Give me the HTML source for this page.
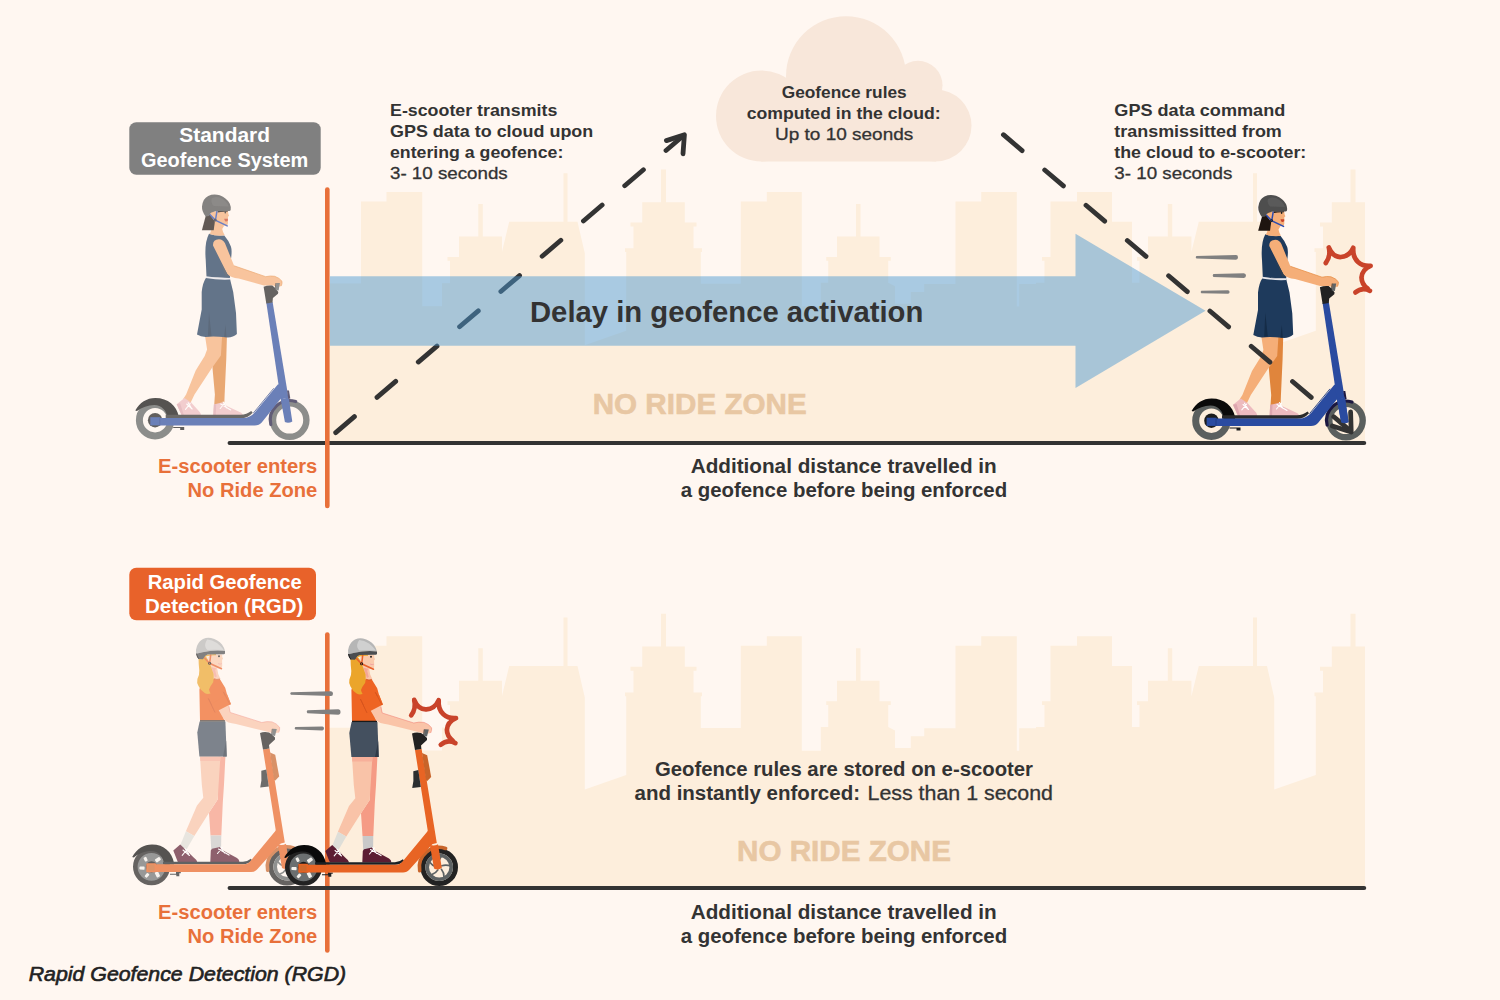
<!DOCTYPE html>
<html><head><meta charset="utf-8">
<style>
html,body{margin:0;padding:0;background:#FFF7F1;}
body{width:1500px;height:1000px;overflow:hidden;font-family:"Liberation Sans",sans-serif;}
svg{display:block;position:absolute;left:0;top:0}
text{font-family:"Liberation Sans",sans-serif;}
.b{font-weight:bold;fill:#333}
.r{font-weight:normal;fill:#333;stroke:#333;stroke-width:0.3px}
.o{font-weight:bold;fill:#E8703A}
.w{font-weight:bold;fill:#fff}
.z{font-weight:bold;fill:#E8C7A3}
</style></head><body>
<svg width="1500" height="1000" viewBox="0 0 1500 1000">
<defs>
<path id="sky" d="M328,889 V727.7 H361 V645.7 H386.5 V636.3 H422.2 V750.5 H442 V727.5 H450 V705 H447.5 V701.2 H459 V680.8 H478.3 V648.2 H482.8 V680.8 H502 V696 L509.2,666 H563.5 V617.5 H567.5 V666 H577.5 L584.8,697.5 V789.5 L626.2,775 V696.2 H625 V692.5 H633.5 V670.8 H630.5 V666.8 H642.2 V646.5 H661 V613.8 H666 V646.5 H684.8 V666.8 H696.5 V670.8 H693.5 V692.5 H702 V696.2 H700.8 V728 H740.8 V645.8 H766.8 V636.2 H801.8 V750.8 H820.8 V727 H828.2 V705 H826.2 V701.2 H837 V680.8 H856 V648.2 H860.5 V680.8 H879.5 V701.2 H890.8 V705 H888.2 V727 L895,730.5 V748 H910.8 V736.2 H924.2 V728.2 H955.5 V645.8 H981.2 V636.2 H1016.8 V750.8 H1019.2 V728.2 H1036 V727 H1044.5 V705 H1042 V701.2 H1050.5 V645.8 H1077 V636.2 H1112 V666 H1132 V727 H1139.5 V705 H1137 V701.2 H1148 V680.8 H1167.8 V648.2 H1172.2 V680.8 H1191.4 V696.4 L1198.8,666 H1253 V617.5 H1257 V666 H1267 L1274.2,697.5 V789.5 L1315.8,775 V696.2 H1314.5 V692.5 H1323 V670.8 H1320 V666.8 H1331.8 V646.5 H1350.5 V613.8 H1355.5 V646.5 H1365 V889 Z"/>

<g id="riderA">
 <!-- rear wheel -->
 <circle cx="1211.4" cy="420.7" r="15.7" fill="none" stroke="#5A5F5E" stroke-width="7"/>
 <circle cx="1211.4" cy="420.7" r="7.2" fill="#1c1c1c"/>
 <!-- front wheel -->
 <circle cx="1346" cy="420.6" r="16.7" fill="none" stroke="#5A5F5E" stroke-width="6.4"/>
 <!-- front fender -->
 <path d="M1327.1,425.0 A19.4,19.4 0 0 1 1352.0,402.1" fill="none" stroke="#1B1740" stroke-width="3.2" stroke-linecap="round"/>
 <g id="arrowA"></g>
 <!-- rear fender -->
 <path d="M1191.6,411 C1196,403 1203,398.4 1211.6,398.4 C1224.5,398.4 1233,406.5 1235,416.5 L1235,419 L1223.6,419 C1223.4,411.5 1218,405.6 1210.5,405.6 C1204,405.6 1198.5,408 1193.2,411.6 Z" fill="#0a0a0a"/>
 <!-- kickstand -->
 <path d="M1229.5,427.6 H1240.5 V430.5 H1236.5 V428.6 H1229.5 Z" fill="#1a1a1a"/>
 <!-- legs -->
 <path d="M1270,336.5 L1283.2,337 L1282.6,359 L1280.9,396 L1280.4,410 L1270.2,410 L1271.2,395 L1268.8,368.6 Z" fill="#E0853C"/>
 <path d="M1261.3,336.2 L1278.4,336.8 L1277.2,356 L1268.2,368.6 L1250.8,395 L1246.5,404 L1239.5,399.5 L1242.4,395 L1252,371 L1261,356.6 L1263.4,350 Z" fill="#F5AE78"/>
 <!-- shoes -->
 <path d="M1233,404.8 L1240.8,398.6 L1247.4,403 L1256,412.5 Q1257.3,414 1257.3,416.8 L1238.4,416.8 Z" fill="#EDBBBF"/>
 <path d="M1233,404.8 L1238.4,416.8 L1240.5,416.8 L1236.5,404 Z" fill="#DDA6AE"/>
 <path d="M1269.5,416.8 L1270.2,405 L1279,402.8 L1283,406.5 L1297.5,413.3 Q1299.3,414.5 1299.3,416.8 Z" fill="#EDBBBF"/>
 <path d="M1269.5,416.8 L1270.2,405 L1272.5,404.5 L1272,416.8 Z" fill="#DDA6AE"/>
 <g stroke="#fff" stroke-width="1.1" fill="none" stroke-linecap="round"><path d="M1243,404.5 L1248.5,409.5 M1241.8,409.8 L1246.5,404.2 M1244.5,403.2 L1247.5,408.2"/><path d="M1277,404.5 L1287,410.5 M1276.5,409 L1281.5,403 M1279.5,402.5 L1283,408.5"/></g>
 <!-- deck grip tape -->
 <path d="M1222,415.3 H1297 Q1303,415.2 1307.5,411.6 L1309,413.2 Q1304,418.8 1297,418.8 H1222 Z" fill="#2a2a2a"/><path d="M1309.6,413.6 L1330,388.8" stroke="#233f86" stroke-width="0.9" fill="none"/>
 <!-- deck + neck -->
 <path d="M1216,418.6 H1299 Q1306.5,418.6 1311.5,412.6 L1334.5,384.5 L1342,393 L1318,423 Q1315.5,425.9 1311,425.9 H1216 Z" fill="#2A4BA0"/>
 <rect x="1206.6" y="417.7" width="9.8" height="8.2" fill="#2A4BA0"/>
 <rect x="1215.4" y="418.6" width="1.2" height="7.3" fill="#223f8a"/>
 <!-- stem -->
 <path d="M1322.6,303 L1328.9,302.4 L1344.8,398.5 L1337,399.5 Z" fill="#2A4BA0"/>
 <g id="forkA"><path d="M1336.6,397.5 Q1340.5,400.5 1344.8,397 L1348.6,422 Q1345,424 1341.2,422.6 Z" fill="#2A4BA0"/></g>
 <path d="M1343.3,391 L1345.3,391 L1346.6,399 L1344.6,399.5 Z" fill="#1B1740"/>
 <!-- dress -->
 <path d="M1262.5,278 L1286.2,278.9 L1289.5,292.5 L1292.3,313.5 L1293.2,334.5 Q1289,338.5 1282,337.8 Q1270,336.2 1262,337.4 Q1257,337.4 1253.3,335 L1258,310 L1258,292.5 Q1259,283 1262.5,278 Z" fill="#1E3A5C"/>
 <path d="M1265.3,312.8 L1264.2,336.8 L1267.8,336.6 Z M1281.8,325 L1280.4,337.6 L1282.8,337.8 Z" fill="#152C47"/>
 <path d="M1265.3,234.2 Q1272,236.6 1280.6,236 Q1285,241 1287.2,247 Q1288.6,251 1287.2,260 L1286.2,278.5 L1262.8,277.5 L1262,260 Q1260.6,243 1265.3,234.2 Z" fill="#1E3A5C"/>
 <path d="M1262.2,277.6 Q1274,279.8 1286.4,279.2" fill="none" stroke="#E6E6EC" stroke-width="1.6"/>
 <!-- neck + head -->
 <path d="M1266.5,233.5 L1270.5,222 L1280.6,226 L1278.5,229.5 Q1279,232.5 1281,235.8 Q1273,237 1265.5,234.4 Z" fill="#F5AE78"/>
 <path d="M1266.5,212 L1284.3,211.6 L1284.6,214.5 L1285.4,216.3 L1284.3,217.2 L1284.3,223.6 Q1284.3,226.2 1282.2,226.1 L1276.5,225.6 L1271.5,223.4 L1266.5,218 Z" fill="#F5AE78"/>
 <path d="M1280.5,219.2 L1284.2,219.2 L1284.2,221 Q1283.3,222.4 1281.8,222 Q1280.8,221 1280.5,219.2 Z" fill="#C9432A"/>
 <ellipse cx="1281.6" cy="212.9" rx="0.8" ry="1.1" fill="#222"/>
 <path d="M1273.8,211.2 H1284 V212.3 Q1278,211.9 1274,213 Z" fill="#1E1510"/>
 <!-- hair -->
 <path d="M1262,216.5 L1258.2,230.8 L1270,230.8 L1271.2,222 L1266,215 Z" fill="#1E1510"/>
 <!-- strap -->
 <g stroke="#2A4BB0" stroke-width="1.5" fill="none" stroke-linecap="round"><path d="M1266.2,215 L1271.5,220.6 L1283.5,226.4 M1273.2,212 L1271.8,220.4"/></g>
 <circle cx="1271.6" cy="220.6" r="1.3" fill="#1a1a1a"/><circle cx="1271.6" cy="220.6" r="0.5" fill="#2A4BB0"/>
 <!-- helmet -->
 <path d="M1262,216.9 Q1258,212 1258.3,207 Q1259,199 1264.5,196.4 Q1270,193.8 1276,195.8 Q1283,198.5 1286,204 Q1287.6,207.5 1287,210.5 Q1286.5,211.6 1285,211.4 L1274,211.5 Q1268.5,212 1266.6,214 Q1265.6,215.4 1265.3,216.5 Z" fill="#4E4E4E"/>
 <path d="M1268,199 Q1271,196.5 1276,198 Q1283,201 1285,207 L1270,206.5 Q1266.8,203 1268,199 Z" fill="#5A5A5A"/>
 <!-- arm -->
 <path d="M1269.3,246 Q1269,240 1275.2,239.8 Q1279.6,240 1281.4,244 L1290.4,266.3 L1322,277.2 Q1327,276 1331,276.8 Q1336,278.5 1338.3,281.8 Q1338.6,284.5 1337.4,286.6 L1333,288 L1329.8,286 L1320.2,286.1 L1295,279 Q1287,278.3 1283.6,274.4 Z" fill="#F5AE78"/>
 <path d="M1290.4,266.3 L1322,277.2 Q1327,276 1331,276.8 Q1336,278.5 1338.3,281.8 Q1338.6,284.5 1337.4,286.6" fill="none" stroke="#E58A3E" stroke-width="0.7"/>
 <path d="M1275.4,260 L1283.6,274.4 L1285.2,276.2 L1282,276.4 Z" fill="#2E3E50"/>
 <!-- grip -->
 <path d="M1319.9,287.2 Q1324,285.6 1328.6,286.1 L1331.5,288.5 L1334.6,292.4 L1334.3,294.2 L1329.2,298.4 L1328.8,303 L1322.6,303.9 Z" fill="#222"/>
 <path d="M1332.7,283.4 L1336.2,283.6 L1334.9,290.9 L1331.8,290.6 Z" fill="#5F6466"/>
 <path d="M1332.7,283.4 L1331.8,290.6 L1331,290.4 L1331.8,283.6 Z" fill="#333"/>
</g>

<g id="riderB">
 <!-- rear wheel -->
 <circle cx="303.5" cy="867.3" r="16.2" fill="#6B6F70" stroke="#222" stroke-width="4.6"/>
 <g fill="#F4F1EC"><rect x="308.1" y="857.4" width="3.6" height="5.6" rx="0.9" transform="rotate(54 309.9 860.2)"/><rect x="296.1" y="857.5" width="3" height="4.4" rx="0.9" transform="rotate(-26 297.6 859.7)"/><rect x="292.4" y="866.0" width="3.2" height="5.2" rx="0.9" transform="rotate(274 294.0 868.6)"/><rect x="297.5" y="873.5" width="3" height="4.6" rx="0.9" transform="rotate(220 299.0 875.8)"/><rect x="307.6" y="872.0" width="3.6" height="5.8" rx="0.9" transform="rotate(154 309.4 874.9)"/></g>
 <circle cx="303.5" cy="867.3" r="5.6" fill="#1c1c1c"/>
 <!-- front wheel -->
 <circle cx="439.2" cy="867.25" r="16.3" fill="none" stroke="#222" stroke-width="5"/>
 <circle cx="439.2" cy="867.25" r="12" fill="none" stroke="#5E6364" stroke-width="3.6"/>
 <path d="M438.7,864.3 Q438.3,860.3 441.1,856.4 M441.8,865.8 Q445.5,864.3 450.1,865.7 M441.4,869.3 Q444.0,872.4 444.0,877.1 M437.9,869.9 Q435.8,873.4 431.3,874.9 M436.2,866.8 Q432.3,865.9 429.5,862.1 " fill="none" stroke="#5E6364" stroke-width="1.7" stroke-linecap="round"/>
 <!-- front fender -->
 <path d="M419.7,870.7 A19.8,19.8 0 0 1 445.6,848.5" fill="none" stroke="#C8642A" stroke-width="3.6" stroke-linecap="round"/>
 <!-- rear fender -->
 <path d="M284.2,857.4 C289,849 296,844.9 304,844.9 C316,844.9 324,852.5 326,863.4 L326,865 L316,865 C315.8,857.5 311,851.5 303,851.5 C296.5,851.5 291,854 285.8,858 Z" fill="#0a0a0a"/>
 <!-- kickstand -->
 <path d="M322,874.2 H328 V872.6 H332.8 V873.8 H331.3 V876.8 H328.3 V875.2 H322 Z" fill="#1f2326"/>
 <!-- far leg -->
 <path d="M370.6,757 L377.4,757 L376,785 L374.8,803 L373.3,836 L362.5,836 L361,813.2 L369.7,800 Z" fill="#F59B85"/>
 <path d="M362.5,836 L373.3,836 L373,851 L363.3,851 Z" fill="#C9C9C9"/>
 <!-- near leg -->
 <path d="M352,757 L372.4,757 L370.6,785 L369.7,800 L361,813.2 L346.3,836.6 L337.9,831.8 L349,806 L355.3,798.2 L353.8,785 Z" fill="#F9C3A8"/>
 <path d="M352,757 L372.4,757 L372.2,761.5 L352.3,761.5 Z" fill="#F7B09A"/>
 <path d="M337.9,831.8 L346.3,836.6 L338.5,850 L331.8,847 Z" fill="#DEDED8"/>
 <!-- shoes -->
 <path d="M325.3,851 L332.2,844.9 L337,849.4 L345.4,857.8 Q349,860.5 349.2,862.6 L329.8,862.6 Z" fill="#5C1D33"/>
 <path d="M362.3,862.6 L362.8,851 L364,849.2 L372,847.6 L376,851.5 L389,858.6 Q391.4,860 391.4,862.6 Z" fill="#5C1D33"/>
 <g stroke="#fff" stroke-width="1.1" fill="none" stroke-linecap="round"><path d="M335,850.5 L341.5,856 M334.2,855.8 L339,850 M337,849 L340.5,854"/><path d="M370.5,849.5 L381,855.6 M369.5,854 L374.5,848 M372.8,847.6 L376.5,853.5"/></g>
 <!-- grip tape -->
 <path d="M315,862.3 H395 Q399.5,862 402.9,859.2 L404,860.8 Q400.5,864.8 395,864.8 H315 Z" fill="#1a2025"/>
 <!-- deck + neck -->
 <path d="M307,864.7 H396 Q400.5,864.5 403.4,860.4 L428.2,830.6 L436,840 L409.5,869.5 Q407,872.5 403,872.5 H307 Z" fill="#E86424"/>
 <rect x="298.3" y="863.8" width="9.7" height="9" rx="0.8" fill="#E86424"/>
 <rect x="300.2" y="865.3" width="6.4" height="6" rx="1.2" fill="#CF682C"/>
 <!-- stem -->
 <path d="M415,750 L421.6,749 L436.8,843 L429,845 L427.6,829.8 Z" fill="#E86424"/>
 <path d="M422,753 L427.2,755.2 L431.2,777 L427,781.2 L426,780 Z" fill="#C8642A"/>
 <path d="M413.3,771.3 L418.3,770 L420.8,787 L412.2,788 L413.4,781 Z" fill="#2b2e30"/>
 <!-- fork -->
 <path d="M429.8,844.6 Q434,846.6 438,844.2 L441.8,868 Q438,870.6 434,868.6 Z" fill="#E86424"/>
 <!-- shorts -->
 <path d="M351.6,722 L377.4,722 L378.7,757 L351.4,757 L349.3,733 Z" fill="#44505F"/>
 <path d="M378.2,741 L378.7,757 L375,757 Z" fill="#2E3947"/>
 <!-- neck -->
 <path d="M362,666 L369,668 L370.2,674.5 Q371.5,677.5 372.6,679.5 L365.6,680 Z" fill="#FAC4A8"/><path d="M363.5,667.5 L368.2,668.2 L367.2,671 L368.8,677 L366.8,678 Z" fill="#F4A597"/>
 <!-- tshirt -->
 <path d="M365.8,679.2 Q369,680.4 371.8,679.5 L377.2,688.2 L379,694.8 L382.9,704.4 L372.5,709.5 L376.4,721 L352,721 L351.4,690 Q353,682 358,680 Z" fill="#EE6423"/>
 <path d="M360.4,699 L367,712.8 M375.4,692.4 L382,705" fill="none" stroke="#D2521C" stroke-width="0.7"/>
 <path d="M365.8,679.2 Q369,680.6 371.8,679.5" fill="none" stroke="#D2521C" stroke-width="0.8"/>
 <path d="M352,721.4 H377" stroke="#1a1a1a" stroke-width="1.3"/>
 <!-- head -->
 <path d="M361,655.4 L374.2,655 L374.2,657.6 L375.1,659.3 L374.1,660.2 L374.2,666.4 Q374.2,669 372.2,669 L366.5,668.6 L363,667.2 L361,664 Z" fill="#FAC9AB"/>
 <path d="M359.5,657.5 Q361.6,655.8 362,659 Q361.8,661.4 360.2,661.6 Z" fill="#FBD5C2"/>
 <path d="M370,663.6 Q372,664.6 373.9,663.8 L373.9,664.6 Q372,665.4 370.2,664.4 Z" fill="#F0A0A0"/>
 <circle cx="371" cy="656.7" r="0.95" fill="#1a1a1a"/>
 <!-- hair -->
 <path d="M350.5,658 L357,655.5 Q360,659 362.6,666 Q364,670 365.6,674.5 Q366,679 365.2,682.8 Q362,687 361,690 Q361.5,692.5 362.6,694 Q359.5,695 357,693.8 Q352.5,691 350.5,686.5 Q348.5,683 349.4,679.5 Q351.6,675 351.3,671 Q350.6,665 350.5,658 Z" fill="#EBA52B"/>
 <path d="M357,655.2 L368,654.6 L368,655.8 Q362,655.8 358,657 Z" fill="#EBA52B"/>
 <!-- strap -->
 <g stroke="#E8602A" stroke-width="1.5" fill="none" stroke-linecap="round"><path d="M356.5,658.5 L361.5,663.8 L373.5,669.2 M362.7,655.6 L361.7,663.4"/></g>
 <circle cx="361.6" cy="663.8" r="1.5" fill="#1a1a1a"/><ellipse cx="361.6" cy="663.8" rx="0.5" ry="0.9" fill="#E8602A"/>
 <!-- helmet -->
 <path d="M348.1,654.2 Q347.6,650 349,646.5 Q351,641.5 355,639.4 Q359,637.6 363,638.4 Q370,640 374,645 Q376.4,648.5 377,651.4 Q370,650.4 362,651.4 Q354,652.4 348.1,654.2 Z" fill="#B6B6B6"/>
 <path d="M359.2,640 Q364,640 369,643.5 Q374,647.5 375.6,650.6 Q366,649.8 359.5,650.6 Q356.6,648 357.2,644.5 Q357.8,641.5 359.2,640 Z" fill="#D0D0D0"/>
 <path d="M348.1,654.2 Q354,652.4 362,651.4 Q370,650.4 377,651.4 L377,654 Q376.6,654.8 375.5,654.7 L359.5,655.1 Q357,656.2 356.2,657.8 Q355.6,659.2 354.8,659.7 L350.6,659.4 Q348.6,657.4 348.1,654.2 Z" fill="#4B4D50"/>
 <path d="M348.1,654.2 Q348.6,657.4 350.6,659.4 L351.4,659.4 Q349.4,657.2 349,654 Z" fill="#1a1a1a"/>
 <!-- arm -->
 <path d="M370,709.6 L381,704.6 L382.2,713 L413.8,723 Q419,721.6 424,722.4 Q428.5,723.8 431.6,727.8 Q432,730.5 430.6,733 L426,734 L421.5,732.8 L412.4,730.6 L388,724.5 Q379,723.5 376,720 Z" fill="#FAC4A8"/>
 <path d="M380.8,706.8 L382.2,713 L413.8,723 Q419,721.6 424,722.4 Q428.5,723.8 431.6,727.8 Q432,730.5 430.6,733" fill="none" stroke="#F2877A" stroke-width="0.6"/>
 <path d="M366,703 L379,694.8 L382.9,704.4 L367,712.8 L363.6,705.6 Z" fill="#EE6423"/>
 <path d="M360.4,699 L367,712.8 M375.4,692.4 L382,705" fill="none" stroke="#D2521C" stroke-width="0.7"/>
 <!-- grip -->
 <path d="M412,733.6 Q416.2,731.8 421,733.1 L424,734.9 L427,737.9 L427,740 L421,745.4 L421.4,749 L415,750 Z" fill="#222"/>
 <path d="M424.7,729.2 L428.8,729.5 L427,736.4 L424,735.8 Z" fill="#5F6466"/>
 <path d="M424.7,729.2 L424,735.8 L423.2,735.6 L423.8,729.4 Z" fill="#333"/>
</g>
</defs>

<!-- ===== upper panel ===== -->
<use href="#sky" transform="translate(0,-444.3)" fill="#FDEEDC"/>
<!-- cloud -->
<g fill="#F8E7DA">
<circle cx="761.5" cy="116" r="45.5"/><circle cx="846" cy="76.3" r="60"/><circle cx="918" cy="85.3" r="24.5"/><circle cx="935.5" cy="125.5" r="36"/><rect x="761" y="100" width="175" height="61.5"/>
</g>
<!-- dashed lines -->
<g fill="none" stroke="#333" stroke-width="4.8" stroke-linecap="round" stroke-linejoin="round">
<path d="M335.7,432.6 L682.7,136.2" stroke-dasharray="24.6 29.7"/>
<path d="M666.4,140.6 L684.4,134.8 L683,153.8"/>
</g>
<!-- big arrow -->
<path d="M330,276.2 H1075.5 V233.8 L1205.5,310.8 L1075.5,388 V345.8 H330 Z" fill="rgb(75,152,208)" fill-opacity="0.48"/>
<!-- ground + fence -->
<line x1="229.6" y1="443" x2="1364.2" y2="443" stroke="#333" stroke-width="4.1" stroke-linecap="round"/>
<line x1="327.3" y1="189.5" x2="327.3" y2="506" stroke="#E8703A" stroke-width="4.6" stroke-linecap="round"/>

<!-- riders upper -->
<use href="#riderA" transform="translate(-1056.3,-0.5)" opacity="0.69"/>
<!-- speed lines A -->
<g fill="#808080">
<path d="M1196.4,255.9 L1236,255 Q1238,255 1238,257.3 Q1238,259.6 1236,259.7 L1196.4,258.6 Q1195,257.2 1196.4,255.9 Z"/>
<path d="M1213.4,274 L1243.8,273.2 Q1246,273.3 1246,275.6 Q1246,278 1243.8,278.1 L1213.4,277 Q1212,275.5 1213.4,274 Z"/>
<path d="M1201.3,290.8 L1228,290.3 Q1229.6,290.4 1229.6,292 Q1229.6,293.7 1228,293.8 L1201.3,293.2 Q1200,292 1201.3,290.8 Z"/>
</g>
<use href="#riderA"/>
<!-- right dashed line -->
<g fill="none" stroke="#333" stroke-width="4.8" stroke-linecap="round" stroke-linejoin="round">
<path d="M1003.4,134.7 L1350.4,430.9" stroke-dasharray="24.6 29.7"/>
<path d="M1332.3,426 L1351.2,432 L1350.6,412"/>
</g>
<use href="#forkA"/>
<!-- burst A -->
<g id="burst" fill="none" stroke="#C9432A" stroke-width="4.7" stroke-linecap="round" stroke-linejoin="round">
<path d="M1325.8,263 Q1331,256 1328.8,247.5 Q1333,257.5 1341,257 Q1349.5,256.5 1353.3,247.8 Q1352.5,257 1358,262 Q1363,266.5 1370.6,265.8 Q1362,269.5 1361.5,277.5 Q1361.5,284 1367.5,288.5"/>
<path d="M1355.4,292.4 Q1362,286.8 1370,290.8"/>
</g>
<!-- ===== lower panel ===== -->
<use href="#sky" fill="#FDEEDC"/>
<line x1="327.3" y1="634.5" x2="327.3" y2="950.5" stroke="#E8703A" stroke-width="4.6" stroke-linecap="round"/>
<line x1="229.6" y1="888" x2="1364.2" y2="888" stroke="#333" stroke-width="4.1" stroke-linecap="round"/>

<!-- riders lower -->
<use href="#riderB" transform="translate(-152,-0.5)" opacity="0.69"/>
<g fill="#808080">
<path d="M290.9,692.2 L331,691.3 Q333,691.4 333,693.7 Q333,696 331,696.1 L290.9,694.8 Q289.5,693.4 290.9,692.2 Z"/>
<path d="M307.4,710.2 L338.4,709.3 Q340.6,709.4 340.6,712 Q340.6,714.6 338.4,714.7 L307.4,713.2 Q306,711.7 307.4,710.2 Z"/>
<path d="M295.3,727.1 L322.3,726.6 Q324,726.7 324,728.5 Q324,730.3 322.3,730.4 L295.3,729.6 Q294,728.3 295.3,727.1 Z"/>
</g>
<use href="#riderB"/>
<use href="#burst" transform="translate(-914.6,452.3)"/>
<!-- label boxes -->
<rect x="129.3" y="122.3" width="191.4" height="52.4" rx="7" fill="#808080"/>
<rect x="129.3" y="567.7" width="186.7" height="52.6" rx="7" fill="#E8622A"/>

<!-- ===== text ===== -->
<g font-size="20" class="w" lengthAdjust="spacingAndGlyphs">
<text x="179.3" y="142.3" textLength="90.7" lengthAdjust="spacingAndGlyphs">Standard</text><text x="141" y="166.7" textLength="167.3" lengthAdjust="spacingAndGlyphs">Geofence System</text>
<text x="147.7" y="589" textLength="154" lengthAdjust="spacingAndGlyphs">Rapid Geofence</text><text x="145" y="613.3" textLength="158.3" lengthAdjust="spacingAndGlyphs">Detection (RGD)</text>
</g>
<g font-size="17" class="b">
<text x="390" y="116" textLength="167.3" lengthAdjust="spacingAndGlyphs">E-scooter transmits</text><text x="390" y="137.2" textLength="203.3" lengthAdjust="spacingAndGlyphs">GPS data to cloud upon</text><text x="390" y="158.3" textLength="173.3" lengthAdjust="spacingAndGlyphs">entering a geofence:</text><text x="390" y="179.4" class="r" textLength="117.7" lengthAdjust="spacingAndGlyphs">3- 10 seconds</text>
<text x="1114.3" y="116" textLength="171" lengthAdjust="spacingAndGlyphs">GPS data command</text><text x="1114.3" y="137.2" textLength="167.5" lengthAdjust="spacingAndGlyphs">transmissitted from</text><text x="1114.3" y="158.3" textLength="192" lengthAdjust="spacingAndGlyphs">the cloud to e-scooter:</text><text x="1114.3" y="179.4" class="r" textLength="118" lengthAdjust="spacingAndGlyphs">3- 10 seconds</text>
<text x="781.7" y="98.3" textLength="125" lengthAdjust="spacingAndGlyphs">Geofence rules</text><text x="746.7" y="119.3" textLength="194" lengthAdjust="spacingAndGlyphs">computed in the cloud:</text><text x="775" y="140.2" class="r" textLength="138.3" lengthAdjust="spacingAndGlyphs">Up to 10 seonds</text>
</g>
<text x="530" y="322.3" font-size="29" class="b" textLength="393.3" lengthAdjust="spacingAndGlyphs">Delay in geofence activation</text>
<text x="592.7" y="414" font-size="29" class="z" stroke="#E8C7A3" stroke-width="0.6" textLength="214" lengthAdjust="spacingAndGlyphs">NO RIDE ZONE</text>
<text x="737" y="861" font-size="29" class="z" stroke="#E8C7A3" stroke-width="0.6" textLength="214" lengthAdjust="spacingAndGlyphs">NO RIDE ZONE</text>
<g font-size="20" class="b">
<text x="690.7" y="472.7" textLength="306" lengthAdjust="spacingAndGlyphs">Additional distance travelled in</text><text x="680.7" y="496.7" textLength="326.5" lengthAdjust="spacingAndGlyphs">a geofence before being enforced</text>
<text x="690.7" y="919" textLength="306" lengthAdjust="spacingAndGlyphs">Additional distance travelled in</text><text x="680.7" y="943.2" textLength="326.5" lengthAdjust="spacingAndGlyphs">a geofence before being enforced</text>
<text x="655" y="776" textLength="378" lengthAdjust="spacingAndGlyphs">Geofence rules are stored on e-scooter</text><text x="634.5" y="799.5" textLength="225.5" lengthAdjust="spacingAndGlyphs">and instantly enforced:</text><text x="867.5" y="799.5" class="r" textLength="185.5" lengthAdjust="spacingAndGlyphs">Less than 1 second</text>
</g>
<g font-size="20" class="o">
<text x="158" y="472.7" textLength="159.3" lengthAdjust="spacingAndGlyphs">E-scooter enters</text><text x="187.5" y="496.7" textLength="129.8" lengthAdjust="spacingAndGlyphs">No Ride Zone</text>
<text x="158" y="918.8" textLength="159.3" lengthAdjust="spacingAndGlyphs">E-scooter enters</text><text x="187.5" y="943" textLength="129.8" lengthAdjust="spacingAndGlyphs">No Ride Zone</text>
</g>
<text x="28.7" y="980.5" font-size="19.5" font-style="italic" fill="#222" stroke="#222" stroke-width="0.6" textLength="317.5" lengthAdjust="spacingAndGlyphs">Rapid Geofence Detection (RGD)</text>
</svg>
</body></html>
